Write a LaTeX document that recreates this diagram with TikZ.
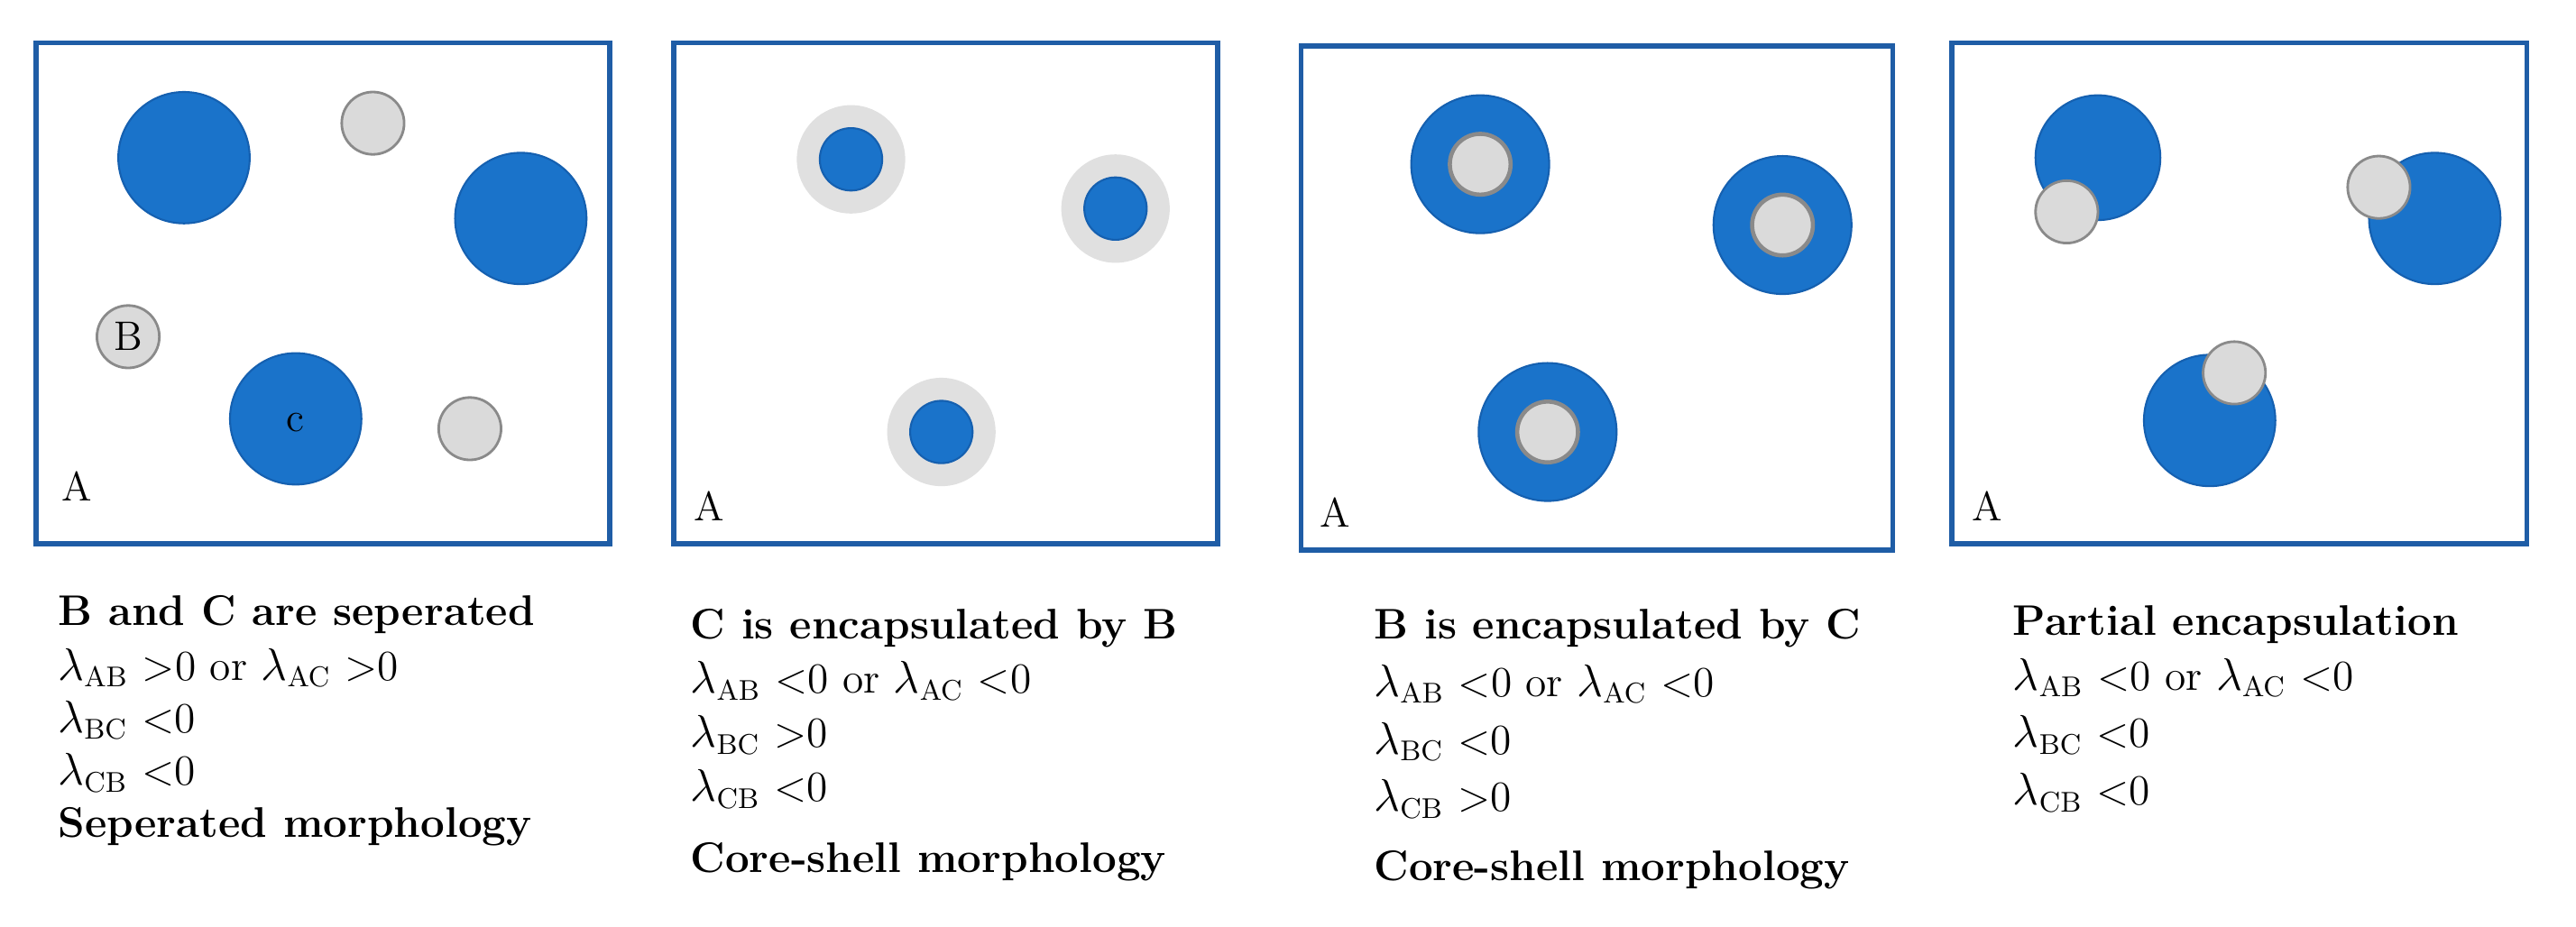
\documentclass[tikz,border=0pt]{standalone}
\usepackage{amsmath}
\definecolor{frame}{HTML}{1F5DA6}
\definecolor{cblue}{HTML}{1A73CA}
\definecolor{cblueb}{HTML}{1560B0}
\definecolor{cgray}{HTML}{DADADA}
\definecolor{cgrayb}{HTML}{8A8A8A}
\begin{document}
\begin{tikzpicture}[x=0.018214cm,y=-0.018214cm,
  box/.style={draw=frame,line width=1.6pt},
  bc/.style={fill=cblue,draw=cblueb,line width=0.6pt},
  gc/.style={fill=cgray,draw=cgrayb,line width=0.8pt},
  gc3/.style={fill=cgray,draw=cgrayb,line width=1.3pt},
  shell/.style={fill=cgray!85,draw=none},
  lab/.style={font=\fontsize{13}{15}\selectfont},
  txt/.style={anchor=base west,inner sep=0pt,font=\fontsize{13.5}{16}\selectfont},
  ttl/.style={txt,font=\fontsize{13.5}{16}\selectfont\bfseries}]
\useasboundingbox (0,0) rectangle (1568,564);
% panel boxes
\draw[box] (22,26) rectangle (371,331);
\draw[box] (410,26) rectangle (741,331);
\draw[box] (792,28) rectangle (1152,335);
\draw[box] (1188,26) rectangle (1538,331);
% panel 1
\draw[bc] (112,96) circle (40);
\draw[gc] (227,75) circle (19);
\draw[bc] (317,133) circle (40);
\draw[gc] (78,205) circle (19);
\node[lab] (pB) at (78,205) {B};
\draw[bc] (180,255) circle (40);
\node[lab] (pC) at (180,257) {c};
\draw[gc] (286,261) circle (19);
\node[lab,anchor=base west,inner sep=0pt] (a1) at (37,305) {A};
% panel 2
\foreach \x/\y in {518/97, 679/127, 573/263}{
  \fill[shell] (\x,\y) circle (33);
  \draw[bc] (\x,\y) circle (19);
}
\node[lab,anchor=base west,inner sep=0pt] (a2) at (422,317) {A};
% panel 3
\foreach \x/\y in {901/100, 1085/137, 942/263}{
  \draw[bc] (\x,\y) circle (42);
  \draw[gc3] (\x,\y) circle (18.5);
}
\node[lab,anchor=base west,inner sep=0pt] (a3) at (803,321) {A};
% panel 4
\draw[bc] (1277,96) circle (38);
\draw[gc] (1258,129) circle (19);
\draw[bc] (1482,133) circle (40);
\draw[gc] (1448,114) circle (19);
\draw[bc] (1345,256) circle (40);
\draw[gc] (1360,227) circle (19);
\node[lab,anchor=base west,inner sep=0pt] (a4) at (1200,317) {A};
% texts panel 1
\node[ttl] (t1a) at (35,381) {B and C are seperated};
\node[txt] (t1b) at (35,414) {$\lambda_{\mathrm{AB}}$ >0 or $\lambda_{\mathrm{AC}}$ >0};
\node[txt] (t1c) at (35,446) {$\lambda_{\mathrm{BC}}$ <0};
\node[txt] (t1d) at (35,478) {$\lambda_{\mathrm{CB}}$ <0};
\node[ttl] (t1e) at (35,510) {Seperated morphology};
% texts panel 2
\node[ttl] (t2a) at (420,389) {C is encapsulated by B};
\node[txt] (t2b) at (420,422) {$\lambda_{\mathrm{AB}}$ <0 or $\lambda_{\mathrm{AC}}$ <0};
\node[txt] (t2c) at (420,455) {$\lambda_{\mathrm{BC}}$ >0};
\node[txt] (t2d) at (420,488) {$\lambda_{\mathrm{CB}}$ <0};
\node[ttl] (t2e) at (420,531) {Core-shell morphology};
% texts panel 3
\node[ttl] (t3a) at (836,389) {B is encapsulated by C};
\node[txt] (t3b) at (836,424) {$\lambda_{\mathrm{AB}}$ <0 or $\lambda_{\mathrm{AC}}$ <0};
\node[txt] (t3c) at (836,459) {$\lambda_{\mathrm{BC}}$ <0};
\node[txt] (t3d) at (836,494) {$\lambda_{\mathrm{CB}}$ >0};
\node[ttl] (t3e) at (836,536) {Core-shell morphology};
% texts panel 4
\node[ttl] (t4a) at (1225,387) {Partial encapsulation};
\node[txt] (t4b) at (1225,420) {$\lambda_{\mathrm{AB}}$ <0 or $\lambda_{\mathrm{AC}}$ <0};
\node[txt] (t4c) at (1225,455) {$\lambda_{\mathrm{BC}}$ <0};
\node[txt] (t4d) at (1225,490) {$\lambda_{\mathrm{CB}}$ <0};
\end{tikzpicture}
\end{document}
